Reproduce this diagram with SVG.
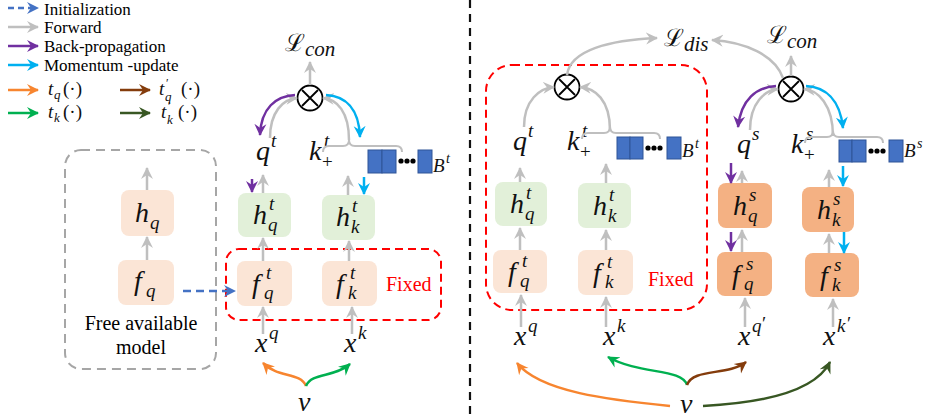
<svg xmlns="http://www.w3.org/2000/svg" width="925" height="420" viewBox="0 0 925 420" font-family="Liberation Serif, serif">
<defs>
<style>
text{font-family:'Liberation Serif',serif;}
.t{font-family:'Liberation Serif',serif;}
.m{font-family:'Liberation Serif',serif;font-style:italic;font-size:28px;fill:#111;}
.s{font-size:19px;}
.L{font-family:'DejaVu Serif',serif;font-size:24px;fill:#111;}
.g{stroke:#BFBFBF;stroke-width:2.5;fill:none;marker-end:url(#ag);}
.p{stroke:#7030A0;stroke-width:2.5;fill:none;marker-end:url(#ap);}
.c{stroke:#00B0F0;stroke-width:2.5;fill:none;marker-end:url(#ac);}
.br{stroke:#BFBFBF;stroke-width:2;fill:none;}
.pe{fill:#FBE5D6;}
.gr{fill:#E2F0D9;}
.or{fill:#F4B183;}
.blk{fill:#4472C4;stroke:#2F5597;stroke-width:1;}
.red{fill:none;stroke:#FF0000;stroke-width:2;stroke-dasharray:8 5;}
</style>
<marker id="ag" markerUnits="userSpaceOnUse" markerWidth="14" markerHeight="14" refX="11" refY="6" orient="auto" viewBox="0 0 14 12"><path d="M0,0 L12,6 L0,12 L4,6 z" fill="#BFBFBF"/></marker>
<marker id="ap" markerUnits="userSpaceOnUse" markerWidth="14" markerHeight="14" refX="11" refY="6" orient="auto" viewBox="0 0 14 12"><path d="M0,0 L12,6 L0,12 L4,6 z" fill="#7030A0"/></marker>
<marker id="ac" markerUnits="userSpaceOnUse" markerWidth="14" markerHeight="14" refX="11" refY="6" orient="auto" viewBox="0 0 14 12"><path d="M0,0 L12,6 L0,12 L4,6 z" fill="#00B0F0"/></marker>
<marker id="ab" markerUnits="userSpaceOnUse" markerWidth="14" markerHeight="14" refX="11" refY="6" orient="auto" viewBox="0 0 14 12"><path d="M0,0 L12,6 L0,12 L4,6 z" fill="#4472C4"/></marker>
<marker id="ao" markerUnits="userSpaceOnUse" markerWidth="14" markerHeight="14" refX="11" refY="6" orient="auto" viewBox="0 0 14 12"><path d="M0,0 L12,6 L0,12 L4,6 z" fill="#F7852F"/></marker>
<marker id="an" markerUnits="userSpaceOnUse" markerWidth="14" markerHeight="14" refX="11" refY="6" orient="auto" viewBox="0 0 14 12"><path d="M0,0 L12,6 L0,12 L4,6 z" fill="#00B050"/></marker>
<marker id="aw" markerUnits="userSpaceOnUse" markerWidth="14" markerHeight="14" refX="11" refY="6" orient="auto" viewBox="0 0 14 12"><path d="M0,0 L12,6 L0,12 L4,6 z" fill="#843C0C"/></marker>
<marker id="ad" markerUnits="userSpaceOnUse" markerWidth="14" markerHeight="14" refX="11" refY="6" orient="auto" viewBox="0 0 14 12"><path d="M0,0 L12,6 L0,12 L4,6 z" fill="#385723"/></marker>
</defs>
<rect width="925" height="420" fill="#fff"/>

<g id="legend">
<line x1="8" y1="8" x2="38" y2="8" stroke="#4472C4" stroke-width="2.5" stroke-dasharray="6 4" marker-end="url(#ab)"/>
<text class="t" x="44" y="15" font-size="17">Initialization</text>
<line x1="8" y1="27" x2="38" y2="27" class="g"/>
<text class="t" x="44" y="33" font-size="17">Forward</text>
<line x1="8" y1="46" x2="38" y2="46" class="p"/>
<text class="t" x="44" y="52" font-size="17">Back-propagation</text>
<line x1="8" y1="65" x2="38" y2="65" class="c"/>
<text class="t" x="44" y="71" font-size="17">Momentum -update</text>
<line x1="8" y1="90" x2="38" y2="90" stroke="#F7852F" stroke-width="2.5" marker-end="url(#ao)"/>
<text class="m" style="font-size:19px"><tspan x="48" y="95">t</tspan><tspan x="54" y="99" font-size="13">q</tspan><tspan x="63" y="95" font-style="normal">(·)</tspan></text>
<line x1="120" y1="90" x2="150" y2="90" stroke="#843C0C" stroke-width="2.5" marker-end="url(#aw)"/>
<text class="m" style="font-size:19px"><tspan x="159" y="95">t</tspan><tspan x="166" y="87" font-size="12" font-style="normal">′</tspan><tspan x="165" y="101" font-size="13">q</tspan><tspan x="181" y="95" font-style="normal">(·)</tspan></text>
<line x1="8" y1="113" x2="38" y2="113" stroke="#00B050" stroke-width="2.5" marker-end="url(#an)"/>
<text class="m" style="font-size:19px"><tspan x="48" y="118">t</tspan><tspan x="54" y="122" font-size="13">k</tspan><tspan x="63" y="118" font-style="normal">(·)</tspan></text>
<line x1="120" y1="113" x2="150" y2="113" stroke="#385723" stroke-width="2.5" marker-end="url(#ad)"/>
<text class="m" style="font-size:19px"><tspan x="161" y="118">t</tspan><tspan x="168" y="110" font-size="12" font-style="normal">′</tspan><tspan x="167" y="124" font-size="13">k</tspan><tspan x="178" y="118" font-style="normal">(·)</tspan></text>
</g>

<g id="free-model">
<rect x="65" y="150" width="151" height="219" rx="16" fill="none" stroke="#A6A6A6" stroke-width="2" stroke-dasharray="9 6"/>
<text class="t" x="141" y="330" font-size="20" text-anchor="middle">Free available</text>
<text class="t" x="141" y="354" font-size="20" text-anchor="middle">model</text>
</g>
<g id="hq"><rect class="pe" x="121" y="190" width="53" height="46" rx="8"/><text class="m"><tspan x="135" y="222">h</tspan><tspan class="s" x="150" y="229">q</tspan></text></g>
<g id="fq"><rect class="pe" x="118" y="260" width="56" height="45" rx="8"/><text class="m"><tspan x="134" y="290">f</tspan><tspan class="s" x="146" y="297">q</tspan></text></g>

<g id="fixed-left"><rect class="red" x="226" y="249" width="215" height="71" rx="13"/><text class="t" x="386" y="291" font-size="20" fill="#FF0000">Fixed</text></g>
<g id="fqt-l"><rect class="pe" x="237" y="261" width="55" height="45" rx="8"/><text class="m"><tspan x="252" y="293">f</tspan><tspan class="s" x="266" y="279">t</tspan><tspan class="s" x="264" y="299">q</tspan></text></g>
<g id="fkt-l"><rect class="pe" x="322" y="261" width="55" height="45" rx="8"/><text class="m"><tspan x="336" y="293">f</tspan><tspan class="s" x="350" y="279">t</tspan><tspan class="s" x="348" y="299">k</tspan></text></g>
<g id="hqt-l"><rect class="gr" x="238" y="193" width="53" height="44" rx="8"/><text class="m"><tspan x="253" y="224">h</tspan><tspan class="s" x="269" y="210">t</tspan><tspan class="s" x="268" y="231">q</tspan></text></g>
<g id="hkt-l"><rect class="gr" x="322" y="195" width="53" height="45" rx="8"/><text class="m"><tspan x="336" y="226">h</tspan><tspan class="s" x="352" y="212">t</tspan><tspan class="s" x="351" y="233">k</tspan></text></g>
<g id="qt-l"><text class="m"><tspan x="256" y="160">q</tspan><tspan class="s" x="271" y="147">t</tspan></text></g>
<g id="kt-l"><text class="m"><tspan x="309" y="160">k</tspan><tspan class="s" x="324" y="147">t</tspan><tspan class="s" x="322" y="168" font-style="normal">+</tspan></text></g>
<g id="bank-l"><rect class="blk" x="368" y="150" width="14" height="23"/><rect class="blk" x="382" y="150" width="14" height="23"/><circle cx="401" cy="161" r="2.6"/><circle cx="407" cy="161" r="2.6"/><circle cx="413" cy="161" r="2.6"/><rect class="blk" x="418" y="150" width="14" height="23"/><text class="m" style="font-size:19px"><tspan x="433" y="172">B</tspan><tspan x="446" y="163" font-size="14">t</tspan></text></g>
<g id="otimes-l"><circle cx="310" cy="98" r="12.5" fill="#fff" stroke="#000" stroke-width="1.8"/><path d="M302,90 L318,106 M318,90 L302,106" stroke="#000" stroke-width="1.8"/></g>
<g id="lcon-l"><text class="L"><tspan x="285" y="51">ℒ</tspan><tspan class="m" style="font-size:21px" x="305" y="56">con</tspan></text></g>
<g id="xq-l"><text class="m"><tspan x="255" y="352">x</tspan><tspan class="s" x="269" y="339">q</tspan></text></g>
<g id="xk-l"><text class="m"><tspan x="344" y="352">x</tspan><tspan class="s" x="358" y="339">k</tspan></text></g>
<g id="v-l"><text class="m" x="298" y="411">v</text></g>

<line x1="470" y1="0" x2="470" y2="420" stroke="#111" stroke-width="2.2" stroke-dasharray="8 6"/>

<g id="fixed-right"><rect class="red" x="486" y="65" width="221" height="245" rx="26"/><text class="t" x="648" y="286" font-size="20" fill="#FF0000">Fixed</text></g>
<g id="hqt-r"><rect class="gr" x="495" y="182" width="52" height="44" rx="8"/><text class="m"><tspan x="510" y="213">h</tspan><tspan class="s" x="526" y="199">t</tspan><tspan class="s" x="525" y="220">q</tspan></text></g>
<g id="hkt-r"><rect class="gr" x="578" y="183" width="53" height="45" rx="8"/><text class="m"><tspan x="593" y="215">h</tspan><tspan class="s" x="609" y="201">t</tspan><tspan class="s" x="608" y="222">k</tspan></text></g>
<g id="fqt-r"><rect class="pe" x="493" y="250" width="54" height="43" rx="8"/><text class="m"><tspan x="508" y="281">f</tspan><tspan class="s" x="522" y="267">t</tspan><tspan class="s" x="520" y="287">q</tspan></text></g>
<g id="fkt-r"><rect class="pe" x="578" y="250" width="55" height="45" rx="8"/><text class="m"><tspan x="593" y="282">f</tspan><tspan class="s" x="607" y="268">t</tspan><tspan class="s" x="605" y="288">k</tspan></text></g>
<g id="qt-r"><text class="m"><tspan x="513" y="150">q</tspan><tspan class="s" x="528" y="137">t</tspan></text></g>
<g id="kt-r"><text class="m"><tspan x="567" y="150">k</tspan><tspan class="s" x="582" y="137">t</tspan><tspan class="s" x="580" y="158" font-style="normal">+</tspan></text></g>
<g id="bank-r"><rect class="blk" x="617" y="137" width="13" height="22"/><rect class="blk" x="630" y="137" width="13" height="22"/><circle cx="648" cy="148" r="2.6"/><circle cx="654" cy="148" r="2.6"/><circle cx="660" cy="148" r="2.6"/><rect class="blk" x="667" y="137" width="14" height="22"/><text class="m" style="font-size:19px"><tspan x="682" y="157">B</tspan><tspan x="695" y="148" font-size="14">t</tspan></text></g>
<g id="otimes-dis"><circle cx="567" cy="87" r="12.5" fill="#fff" stroke="#000" stroke-width="1.8"/><path d="M559,79 L575,95 M575,79 L559,95" stroke="#000" stroke-width="1.8"/></g>
<g id="ldis"><text class="L"><tspan x="664" y="46">ℒ</tspan><tspan class="m" style="font-size:21px" x="684" y="51">dis</tspan></text></g>

<g id="hqs"><rect class="or" x="718" y="183" width="54" height="45" rx="8"/><text class="m"><tspan x="733" y="215">h</tspan><tspan class="s" x="749" y="201">s</tspan><tspan class="s" x="748" y="222">q</tspan></text></g>
<g id="fqs"><rect class="or" x="717" y="252" width="55" height="44" rx="8"/><text class="m"><tspan x="732" y="284">f</tspan><tspan class="s" x="746" y="270">s</tspan><tspan class="s" x="744" y="290">q</tspan></text></g>
<g id="hks"><rect class="or" x="802" y="187" width="52" height="45" rx="8"/><text class="m"><tspan x="817" y="219">h</tspan><tspan class="s" x="833" y="205">s</tspan><tspan class="s" x="832" y="226">k</tspan></text></g>
<g id="fks"><rect class="or" x="805" y="253" width="54" height="44" rx="8"/><text class="m"><tspan x="820" y="285">f</tspan><tspan class="s" x="834" y="271">s</tspan><tspan class="s" x="832" y="291">k</tspan></text></g>
<g id="qs"><text class="m"><tspan x="737" y="153">q</tspan><tspan class="s" x="752" y="140">s</tspan></text></g>
<g id="ks"><text class="m"><tspan x="791" y="153">k</tspan><tspan class="s" x="806" y="140">s</tspan><tspan class="s" x="804" y="161" font-style="normal">+</tspan></text></g>
<g id="bank-s"><rect class="blk" x="839" y="140" width="13" height="22"/><rect class="blk" x="852" y="140" width="14" height="22"/><circle cx="871" cy="151" r="2.6"/><circle cx="877" cy="151" r="2.6"/><circle cx="883" cy="151" r="2.6"/><rect class="blk" x="889" y="140" width="14" height="22"/><text class="m" style="font-size:19px"><tspan x="904" y="157">B</tspan><tspan x="917" y="148" font-size="14">s</tspan></text></g>
<g id="otimes-con"><circle cx="791" cy="89" r="12.5" fill="#fff" stroke="#000" stroke-width="1.8"/><path d="M783,81 L799,97 M799,81 L783,97" stroke="#000" stroke-width="1.8"/></g>
<g id="lcon-r"><text class="L"><tspan x="767" y="43">ℒ</tspan><tspan class="m" style="font-size:21px" x="787" y="48">con</tspan></text></g>
<g id="xq-r"><text class="m"><tspan x="514" y="345">x</tspan><tspan class="s" x="528" y="332">q</tspan></text></g>
<g id="xk-r"><text class="m"><tspan x="603" y="345">x</tspan><tspan class="s" x="617" y="332">k</tspan></text></g>
<g id="xqp"><text class="m"><tspan x="738" y="345">x</tspan><tspan class="s" x="752" y="332">q</tspan><tspan class="s" x="762" y="330" font-style="normal">′</tspan></text></g>
<g id="xkp"><text class="m"><tspan x="823" y="345">x</tspan><tspan class="s" x="837" y="332">k</tspan><tspan class="s" x="847" y="330" font-style="normal">′</tspan></text></g>
<g id="v-r"><text class="m" x="680" y="413">v</text></g>

<g id="connectors">
<path class="g" d="M147,190 L147,168"/>
<path class="g" d="M147,260 L147,237"/>
<path d="M183,291 L235,291" stroke="#4472C4" stroke-width="2.5" stroke-dasharray="8 5" fill="none" marker-end="url(#ab)"/>
<path class="g" d="M263,334 L263,307"/>
<path class="g" d="M352,334 L352,307"/>
<path class="g" d="M263,261 L263,238"/>
<path class="g" d="M349,261 L349,241"/>
<path class="g" d="M263,193 L263,175"/>
<path class="g" d="M348,195 L348,176"/>
<path class="p" d="M252,179 L252,192"/>
<path class="c" d="M364,177 L364,194"/>
<path class="g" d="M270,138 C270,112 283,99 297,98"/>
<path class="g" d="M349,140 C349,112 337,99 323,98"/>
<path class="p" d="M295,95 C276,96 261,108 260,135"/>
<path class="c" d="M326,95 C345,96 359,108 360,137"/>
<path class="g" d="M310,85 L310,62"/>
<path class="br" d="M323,152 Q323,146 329,146 L343,146 Q349,146 349,140 Q349,146 355,146 L396,146 Q402,146 402,152"/>
<path d="M306,386 C300,372 278,378 263,363" stroke="#F7852F" stroke-width="2.5" fill="none" marker-end="url(#ao)"/>
<path d="M306,386 C312,372 334,378 350,364" stroke="#00B050" stroke-width="2.5" fill="none" marker-end="url(#an)"/>

<path class="g" d="M520,182 L520,168"/>
<path class="g" d="M520,250 L520,228"/>
<path class="g" d="M521,327 L521,295"/>
<path class="g" d="M606,183 L606,164"/>
<path class="g" d="M606,250 L606,230"/>
<path class="g" d="M606,327 L606,297"/>
<path class="g" d="M524,127 C524,100 540,88 554,87"/>
<path class="g" d="M610,130 C610,100 595,88 580,87"/>
<path class="g" d="M567,75 C570,50 610,40 657,38"/>
<path class="br" d="M582,139 Q582,133 588,133 L604,133 Q610,133 610,127 Q610,133 616,133 L654,133 Q660,133 660,139"/>

<path class="g" d="M745,327 L745,298"/>
<path class="g" d="M833,327 L833,299"/>
<path class="g" d="M742,252 L742,230"/>
<path class="g" d="M742,183 L742,171"/>
<path class="g" d="M829,253 L829,234"/>
<path class="g" d="M829,187 L829,170"/>
<path class="p" d="M731,163 L731,183"/>
<path class="p" d="M731,232 L731,251"/>
<path class="c" d="M843,166 L843,186"/>
<path class="c" d="M844,232 L844,253"/>
<path class="g" d="M750,130 C750,103 765,90 778,89"/>
<path class="g" d="M833,136 C833,105 818,90 804,89"/>
<path class="p" d="M776,86 C757,87 741,99 738,127"/>
<path class="c" d="M806,86 C825,87 840,99 843,128"/>
<path class="g" d="M791,76 L791,56"/>
<path class="g" d="M783,78 C775,55 745,42 712,40"/>
<path class="br" d="M805,143 Q805,137 811,137 L827,137 Q833,137 833,131 Q833,137 839,137 L877,137 Q883,137 883,143"/>

<path d="M670,406 C610,400 540,392 517,363" stroke="#F7852F" stroke-width="2.5" fill="none" marker-end="url(#ao)"/>
<path d="M703,406 C760,403 815,392 830,362" stroke="#385723" stroke-width="2.5" fill="none" marker-end="url(#ad)"/>
<path d="M687,385 C682,368 640,375 608,357" stroke="#00B050" stroke-width="2.5" fill="none" marker-end="url(#an)"/>
<path d="M687,385 C693,368 728,376 746,362" stroke="#843C0C" stroke-width="2.5" fill="none" marker-end="url(#aw)"/>
</g>
</svg>
